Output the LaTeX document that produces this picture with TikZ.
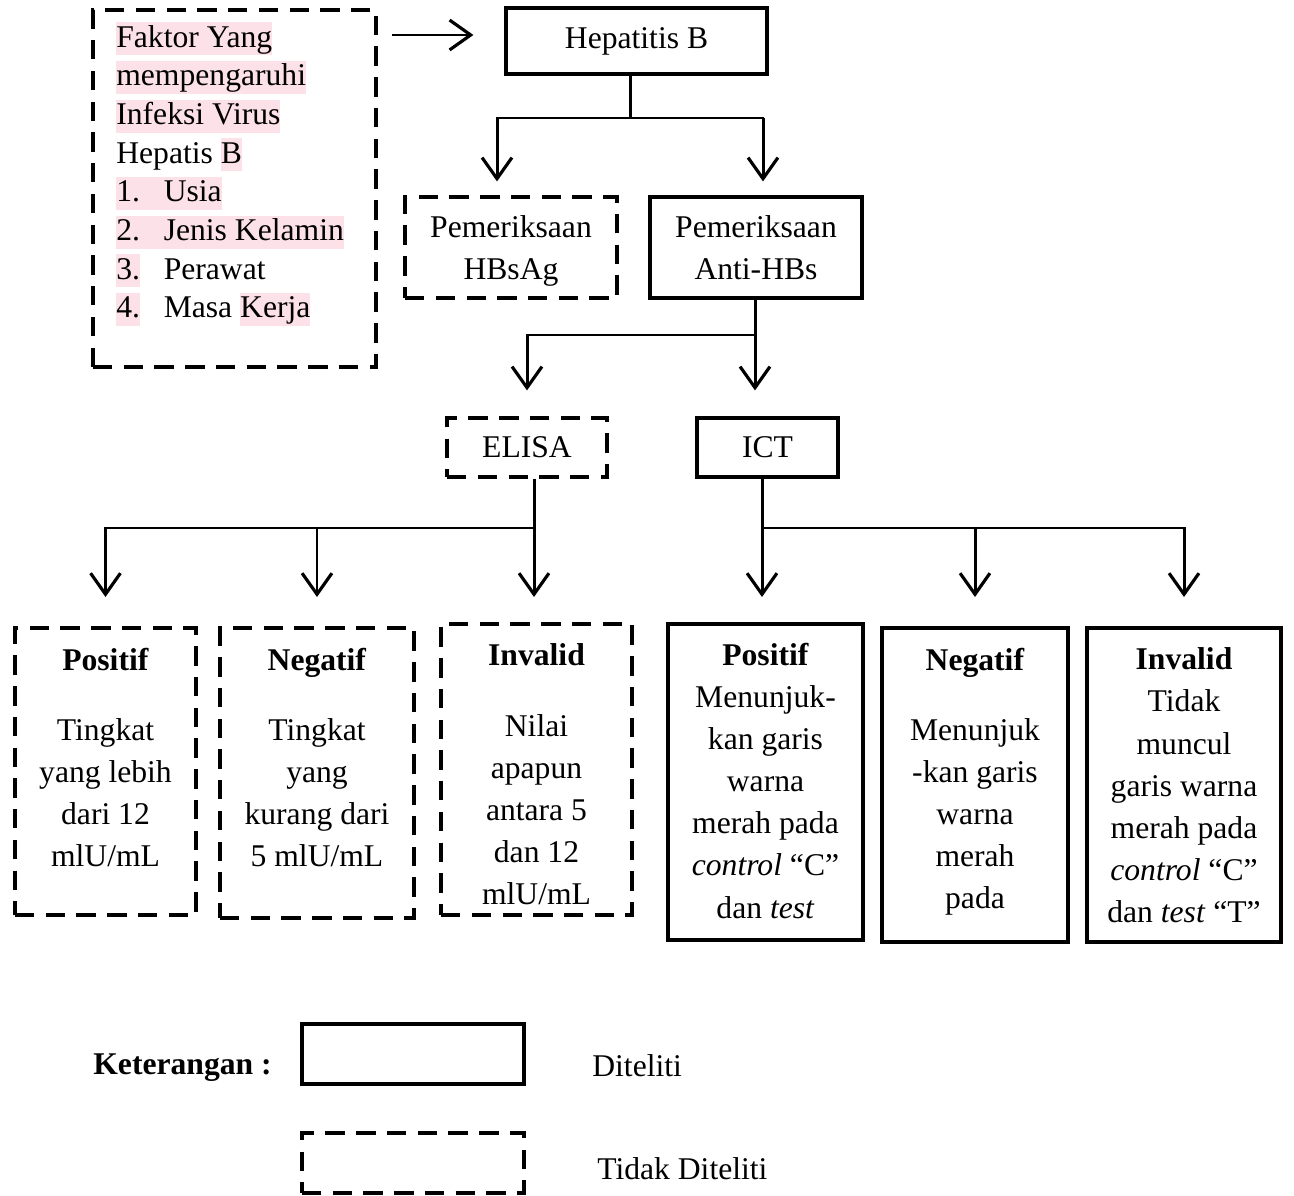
\documentclass[tikz,border=0pt]{standalone}
\usepackage{fontspec}
\setmainfont{Liberation Serif}
\usetikzlibrary{arrows.meta,calc}
\definecolor{hlpink}{HTML}{FDE1E8}
\newcommand\hlp[1]{{\setlength{\fboxsep}{0pt}\colorbox{hlpink}{\rule[-4.6pt]{0pt}{18.8pt}#1}}}
\begin{document}
\begin{tikzpicture}[x=0.02cm, y=-0.02cm,
  every node/.style={font=\fontsize{18}{24}\selectfont},
  sz/.style 2 args={minimum width=#1*0.02cm, minimum height=#2*0.02cm, inner sep=0pt},
  box/.style={draw, line width=1.8pt, align=center},
  dbox/.style={draw, line width=1.8pt, dash pattern=on 11pt off 6.5pt, align=center},
  txt/.style={anchor=north, inner sep=0pt, align=center},
  ln/.style={line width=1.7pt},
  arr/.style={line width=1.7pt, -{Straight Barb[length=12pt,width=17pt,line width=1.8pt]}}]
 \useasboundingbox (0,0) rectangle (1294,1196);

 % left box
 \node (faktor) [dbox, sz={283}{357}] at (234.5,188.5) {};
 \node (faktortxt) [anchor=north west, inner sep=0pt, align=left,
   font=\fontsize{18}{22}\selectfont] at (116,22)
   {\hlp{Faktor Yang}\\ \hlp{mempengaruhi}\\ \hlp{Infeksi Virus}\\ Hepatis \hlp{B}\\
    \hlp{\makebox[27pt][l]{1.}Usia}\\ \hlp{\makebox[27pt][l]{2.}Jenis Kelamin}\\
    \makebox[27pt][l]{\hlp{3.}}Perawat\\ \makebox[27pt][l]{\hlp{4.}}Masa \hlp{Kerja}};

 % main tree
 \node (hep) [box, sz={261}{66}] at (636.5,41) {Hepatitis B};
 \node (hbsag) [dbox, sz={212}{101}, text depth=0pt] at (511,247.5) {Pemeriksaan\\HBsAg};
 \node (anti) [box, sz={212}{101}] at (756,247.5) {Pemeriksaan\\Anti-HBs};
 \node (elisa) [dbox, sz={160}{59}] at (527,447.5) {ELISA};
 \node (ict) [box, sz={141}{59}] at (767.5,447.5) {ICT};

 % result boxes
 \node (ep) [dbox, sz={181}{287}] at (105.5,771.5) {};
 \node (en) [dbox, sz={194}{290}] at (317,773) {};
 \node (ei) [dbox, sz={191}{291}] at (536.5,769.5) {};
 \node (ip) [box, sz={195}{316}] at (765.5,782) {};
 \node (in) [box, sz={186}{314}] at (975,785) {};
 \node (ii) [box, sz={194}{314}] at (1184,785) {};

 \node (ept) [txt] at ($(ep.north)+(0,21)$)
   {\textbf{Positif}\\[16pt]Tingkat\\yang lebih\\dari 12\\mlU/mL};
 \node (ent) [txt] at ($(en.north)+(0,21)$)
   {\textbf{Negatif}\\[16pt]Tingkat\\yang\\kurang dari\\5 mlU/mL};
 \node (eit) [txt] at ($(ei.north)+(0,21)$)
   {\textbf{Invalid}\\[16pt]Nilai\\apapun\\antara 5\\dan 12\\mlU/mL};
 \node (ipt) [txt] at ($(ip.north)+(0,20)$)
   {\textbf{Positif}\\Menunjuk-\\kan garis\\warna\\merah pada\\\textit{control} “C”\\dan \textit{test}};
 \node (int) [txt] at ($(in.north)+(0,21)$)
   {\textbf{Negatif}\\[16pt]Menunjuk\\-kan garis\\warna\\merah\\pada};
 \node (iit) [txt] at ($(ii.north)+(0,21)$)
   {\textbf{Invalid}\\Tidak\\muncul\\garis warna\\merah pada\\\textit{control} “C”\\dan \textit{test} “T”};

 % connectors
 \draw [arr] ($(faktor.east |- hep.west)+(14,-6)$) -- ($(hep.west)+(-31,-6)$);

 \coordinate (b1) at (630,118);
 \draw [ln] (hep.south -| b1) -- (b1);
 \draw [arr] ($(b1)+(-133,0)$) -- ($(hbsag.north)+(-14,-14)$);
 \draw [ln] ($(b1)+(-134,0)$) -- ($(b1)+(134,0)$);
 \draw [arr] ($(b1)+(133,0)$) -- ($(anti.north)+(7,-14)$);

 \coordinate (b2) at (755,335);
 \draw [ln] (anti.south -| b2) -- (b2);
 \draw [arr] (b2) -| ($(elisa.north)+(0,-26)$);
 \draw [arr] (b2) -- ($(b2 |- ict.north)+(0,-26)$);

 \coordinate (tip) at (0,597);
 \coordinate (b3) at (534,528);
 \draw [ln] (elisa.south -| b3) -- (b3);
 \foreach \b in {ep,en}
   \draw [arr] (b3) -| (\b.north |- tip);
 \draw [arr] (b3) -- (b3 |- tip);

 \coordinate (b4) at (762,528);
 \draw [ln] (ict.south -| b4) -- (b4);
 \draw [arr] (b4) -- (b4 |- tip);
 \foreach \b in {in,ii}
   \draw [arr] (b4) -| (\b.north |- tip);

 % legend
 \node (ket) [font=\fontsize{18}{24}\selectfont\bfseries] at (182.5,1068) {Keterangan :};
 \node (lgsolid) [box, sz={222}{60}] at (413,1054) {};
 \node (lgdash) [dbox, sz={222}{60}] at (413,1163) {};
 \node (lgt1) [anchor=west, inner sep=0pt] at (592,1066) {Diteliti};
 \node (lgt2) [anchor=west, inner sep=0pt] at (597,1169) {Tidak Diteliti};
\end{tikzpicture}
\end{document}
